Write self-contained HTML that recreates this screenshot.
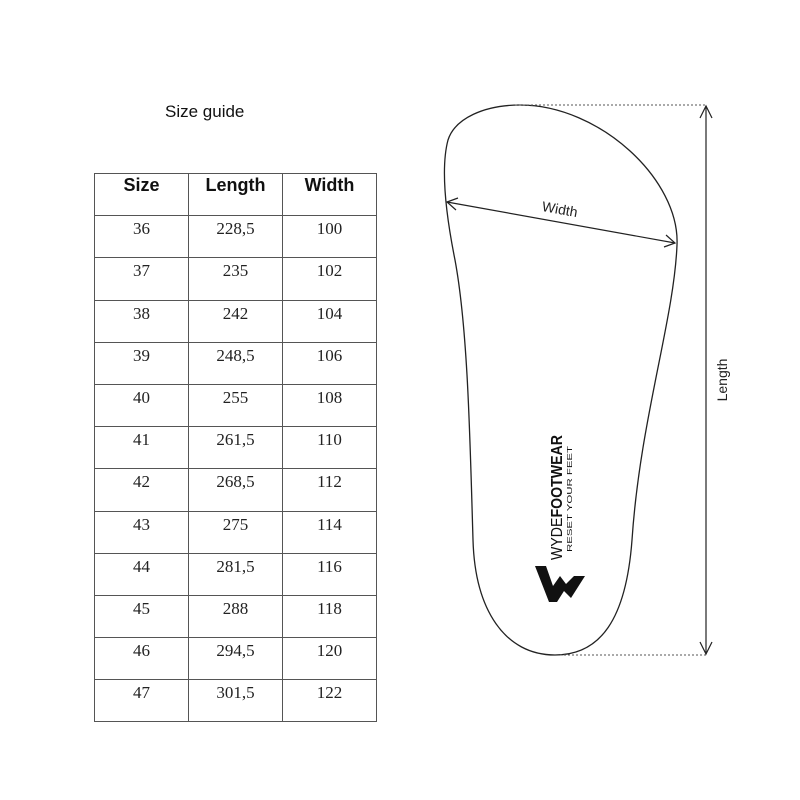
<!DOCTYPE html>
<html><head><style>
body{margin:0;background:#fff;width:800px;height:800px;overflow:hidden;position:relative;font-family:"Liberation Serif",serif}
.t{position:absolute;font-family:"Liberation Sans",sans-serif;font-size:17px;left:165px;top:102px;color:#111}
table{position:absolute;left:94px;top:173px;border-collapse:collapse;table-layout:fixed}
td{border:1px solid #555;width:94px;height:42.2px;text-align:center;vertical-align:top;padding:0;padding-top:3px;box-sizing:border-box;font-size:17px;color:#222}
tr.h td{font-family:"Liberation Sans",sans-serif;font-weight:bold;font-size:18px;color:#111;padding-top:1px}
</style></head><body>
<div class="t">Size guide</div>
<table>
<tr class="h"><td>Size</td><td>Length</td><td>Width</td></tr>
<tr><td>36</td><td>228,5</td><td>100</td></tr>
<tr><td>37</td><td>235</td><td>102</td></tr>
<tr><td>38</td><td>242</td><td>104</td></tr>
<tr><td>39</td><td>248,5</td><td>106</td></tr>
<tr><td>40</td><td>255</td><td>108</td></tr>
<tr><td>41</td><td>261,5</td><td>110</td></tr>
<tr><td>42</td><td>268,5</td><td>112</td></tr>
<tr><td>43</td><td>275</td><td>114</td></tr>
<tr><td>44</td><td>281,5</td><td>116</td></tr>
<tr><td>45</td><td>288</td><td>118</td></tr>
<tr><td>46</td><td>294,5</td><td>120</td></tr>
<tr><td>47</td><td>301,5</td><td>122</td></tr>
</table>
<svg width="800" height="800" style="position:absolute;left:0;top:0">
<path d="M520,105 C600,105 680,180 677,245 C674,320 640,420 632,540 C626,620 600,655 555,655 C505,655 475,610 473,540 C470,440 468,330 455,260 C447,220 440,170 448,140 C455,118 485,105 520,105 Z" fill="none" stroke="#222" stroke-width="1.3"/>
<line x1="515" y1="105" x2="706" y2="105" stroke="#555" stroke-dasharray="2,2"/>
<line x1="560" y1="655" x2="706" y2="655" stroke="#555" stroke-dasharray="2,2"/>
<line x1="706" y1="106" x2="706" y2="654" stroke="#222" stroke-width="1.2"/>
<path d="M700,118 L706,106 L712,118 M700,642 L706,654 L712,642" fill="none" stroke="#222" stroke-width="1.2"/>
<text x="0" y="0" transform="translate(727,380) rotate(-90)" text-anchor="middle" font-family="Liberation Sans" font-size="14" fill="#222">Length</text>
<line x1="447" y1="202" x2="675" y2="243" stroke="#222" stroke-width="1.2"/>
<path d="M458,198 L447,202 L456,210 M666,235 L675,243 L664,247" fill="none" stroke="#222" stroke-width="1.2"/>
<text transform="translate(559,214) rotate(10)" text-anchor="middle" font-family="Liberation Sans" font-size="14" fill="#222">Width</text>
<text transform="translate(562,560) rotate(-90)" textLength="125" lengthAdjust="spacingAndGlyphs" font-family="Liberation Sans" font-size="16" fill="#111"><tspan font-weight="normal">WYDE</tspan><tspan font-weight="bold">FOOTWEAR</tspan></text>
<text transform="translate(572,552) rotate(-90)" textLength="106" lengthAdjust="spacingAndGlyphs" font-family="Liberation Sans" font-size="7.5" fill="#111">RESET YOUR FEET</text>
<path d="M535,566 L546,566 L553,586 L560,576 L566,584 L574,576 L585,576 L571,598 L564,591 L557,602 L549,602 Z" fill="#111"/>
</svg>
</body></html>
